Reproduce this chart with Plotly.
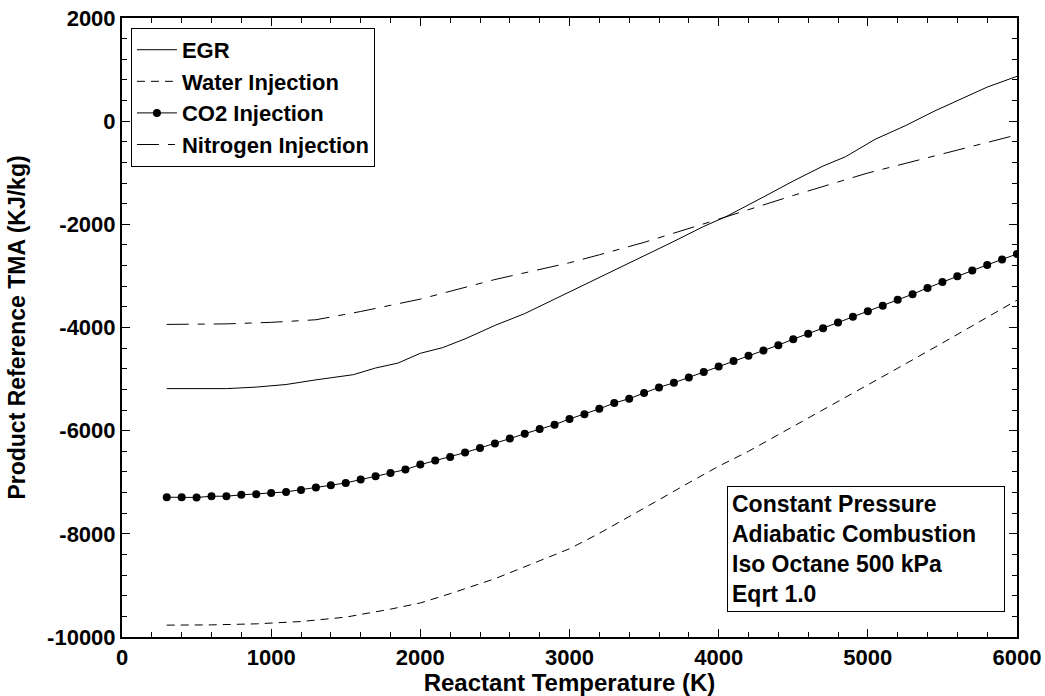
import plotly.graph_objects as go

# Reactant temperature grids (K)
temp_egr = [300, 700, 900, 1100, 1300, 1550, 1700, 1850, 2000, 2150, 2300, 2500,
            2700, 2900, 3100, 3300, 3500, 3700, 3900, 4050, 4300, 4500, 4700,
            4850, 5050, 5250, 5450, 5650, 5800, 6000]
tma_egr = [-5185, -5185, -5155, -5105, -5015, -4915, -4785, -4690, -4500, -4390,
           -4220, -3960, -3730, -3450, -3185, -2905, -2620, -2330, -2040, -1850,
           -1470, -1160, -870, -690, -350, -90, 200, 470, 660, 870]

temp_water = [300, 600, 900, 1200, 1500, 1800, 2000, 2200, 2500, 2800, 3000, 3200,
              3400, 3600, 3800, 4000, 4200, 4500, 4800, 5000, 5200, 5500, 5800, 6000]
tma_water = [-9770, -9765, -9745, -9700, -9615, -9460, -9340, -9160, -8870, -8530,
             -8290, -7990, -7670, -7340, -7010, -6690, -6400, -5920, -5440, -5120,
             -4790, -4300, -3810, -3470]

temp_co2 = list(range(300, 6001, 100))
tma_co2 = [-7290, -7290, -7295, -7271, -7271, -7244, -7232, -7206, -7187, -7148,
           -7103, -7058, -7013, -6948, -6884, -6819, -6755, -6658, -6580, -6509,
           -6425, -6335, -6251, -6154, -6058, -5967, -5884, -5774, -5680, -5577,
           -5464, -5380, -5270, -5161, -5071, -4968, -4864, -4755, -4651, -4548,
           -4445, -4342, -4226, -4122, -4013, -3904, -3793, -3683, -3580, -3464,
           -3354, -3232, -3116, -3006, -2897, -2787, -2684, -2574]

temp_n2 = [300, 700, 1000, 1300, 1600, 2000, 2500, 3000, 3200, 3500, 4000, 4500,
           5000, 5500, 6000]
tma_n2 = [-3940, -3930, -3900, -3850, -3690, -3450, -3070, -2745, -2590, -2350,
          -1900, -1440, -1005, -634, -265]

x_ticks = [0, 1000, 2000, 3000, 4000, 5000, 6000]
y_ticks = [2000, 0, -2000, -4000, -6000, -8000, -10000]

FONT = "Liberation Sans, Arial, sans-serif"

fig = go.Figure()
fig.add_trace(go.Scatter(x=temp_egr, y=tma_egr, mode="lines", name="EGR",
                         line=dict(color="black", width=1)))
fig.add_trace(go.Scatter(x=temp_water, y=tma_water, mode="lines", name="Water Injection",
                         line=dict(color="black", width=1, dash="8px,6px")))
fig.add_trace(go.Scatter(x=temp_co2, y=tma_co2, mode="lines+markers", name="CO2 Injection",
                         line=dict(color="black", width=1),
                         marker=dict(color="black", size=8, symbol="circle")))
fig.add_trace(go.Scatter(x=temp_n2, y=tma_n2, mode="lines", name="Nitrogen Injection",
                         line=dict(color="black", width=1, dash="22px,9px,7px,9px")))

axis_common = dict(
    showgrid=False, zeroline=False, showline=True, linecolor="black", linewidth=2,
    mirror="allticks", ticks="inside", ticklen=8, tickwidth=1, tickcolor="black",
    automargin=False,
    tickfont=dict(family=FONT, size=22, color="black", weight="bold"),
)

fig.update_xaxes(
    range=[0, 6000], tickvals=x_ticks, ticktext=[str(v) for v in x_ticks],
    minor=dict(ticks="inside", dtick=200, tick0=0, ticklen=5, tickcolor="black"),
    title=dict(text="Reactant Temperature (K)",
               font=dict(family=FONT, size=24, color="black", weight="bold")),
    **axis_common,
)
fig.update_yaxes(
    range=[-10000, 2000], tickvals=y_ticks, ticktext=[str(v) for v in y_ticks],
    minor=dict(ticks="inside", dtick=400, tick0=0, ticklen=5, tickcolor="black"),
    title=dict(text="Product Reference TMA (KJ/kg)",
               font=dict(family=FONT, size=23, color="black", weight="bold")),
    **axis_common,
)

fig.update_layout(
    width=1045, height=696,
    margin=dict(l=122, r=28, t=18, b=59),
    paper_bgcolor="white", plot_bgcolor="white",
    showlegend=True,
    legend=dict(
        x=0.01, y=0.984, xanchor="left", yanchor="top",
        bordercolor="black", borderwidth=1, bgcolor="white",
        font=dict(family=FONT, size=22, color="black", weight="bold"),
        tracegroupgap=0, itemwidth=40,
    ),
    annotations=[dict(
        xref="paper", yref="paper", x=0.676, y=0.0404,
        xanchor="left", yanchor="bottom", showarrow=False, align="left",
        text="Constant Pressure<br>Adiabatic Combustion<br>Iso Octane 500 kPa<br>Eqrt 1.0",
        font=dict(family=FONT, size=23, color="black", weight="bold"),
        bordercolor="black", borderwidth=1, borderpad=4, bgcolor="white",
        width=268,
    )],
)

fig.write_html("out.html")
